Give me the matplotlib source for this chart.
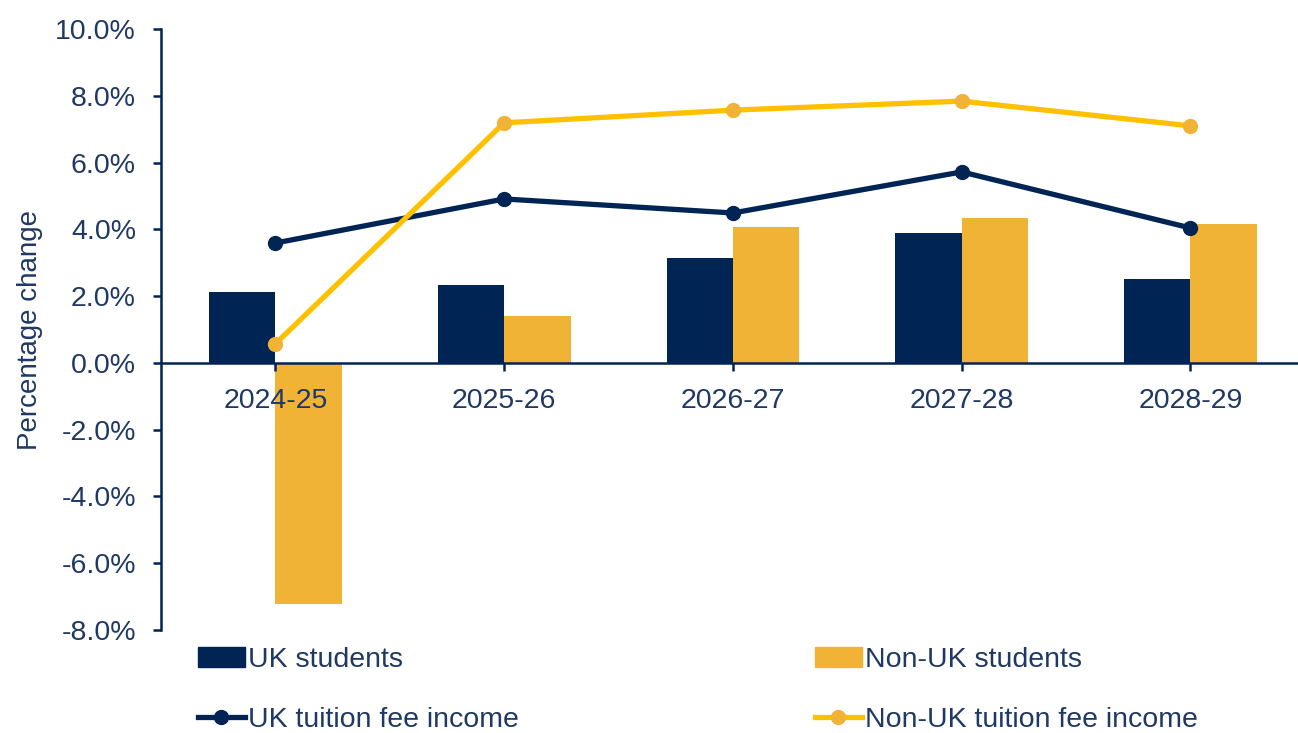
import matplotlib
matplotlib.use("Agg")
import matplotlib.pyplot as plt
from matplotlib.ticker import FuncFormatter, MultipleLocator
from matplotlib.lines import Line2D
from matplotlib.patches import Patch
import numpy as np

plt.rcParams['font.family'] = ['Liberation Sans', 'DejaVu Sans']

years = ["2024-25", "2025-26", "2026-27", "2027-28", "2028-29"]
uk_students = [2.13, 2.33, 3.14, 3.89, 2.51]
nonuk_students = [-7.22, 1.40, 4.07, 4.34, 4.16]
uk_fee_income = [3.59, 4.91, 4.49, 5.72, 4.04]
nonuk_fee_income = [0.57, 7.19, 7.57, 7.84, 7.10]

NAVY = "#002454"
GOLD_BAR = "#F0B336"
GOLD_LINE = "#FFC000"
TEXT = "#1F3864"

fig = plt.figure(figsize=(12.98, 7.33), dpi=100)
ax = fig.add_axes([161/1298, 1 - 630/733, 1 - 161/1298, (630 - 29)/733])
ax.set_axisbelow(False)

x = np.arange(len(years))
w = 0.29
ax.bar(x - w/2, uk_students, width=w, color=NAVY, zorder=1.5)
ax.bar(x + w/2, nonuk_students, width=w, color=GOLD_BAR, zorder=1.5)
ax.plot(x, uk_fee_income, color=NAVY, lw=3.8, marker='o', ms=10, zorder=3)
ax.plot(x, nonuk_fee_income, color=GOLD_LINE, lw=3.8, marker='o', ms=10,
        markerfacecolor=GOLD_BAR, markeredgecolor=GOLD_BAR, zorder=3)

ax.set_ylim(-8, 10)
ax.set_xlim(-0.5, 4.47)
ax.yaxis.set_major_locator(MultipleLocator(2))
ax.yaxis.set_major_formatter(FuncFormatter(lambda v, p: f"{v:.1f}%"))
ax.set_xticks(x)
ax.set_xticklabels(years)

for s in ['top', 'right']:
    ax.spines[s].set_visible(False)
ax.spines['bottom'].set_position(('data', 0))
ax.spines['left'].set_color(NAVY)
ax.spines['bottom'].set_color(NAVY)
ax.spines['left'].set_linewidth(1.8)
ax.spines['bottom'].set_linewidth(1.8)
ax.tick_params(axis='y', direction='out', length=6, width=1.8, color=NAVY,
               labelsize=20.5, labelcolor=TEXT, pad=12)
ax.tick_params(axis='x', direction='out', length=6, width=1.8, color=NAVY,
               labelsize=20.5, labelcolor=TEXT, pad=12)
ax.set_ylabel("Percentage change", fontsize=20, color=TEXT)
ax.yaxis.set_label_coords(-0.104, 0.5)

handles = [
    Patch(facecolor=NAVY, edgecolor=NAVY),
    Line2D([], [], color=NAVY, lw=3.8, marker='o', ms=10),
    Patch(facecolor=GOLD_BAR, edgecolor=GOLD_BAR),
    Line2D([], [], color=GOLD_LINE, lw=3.8, marker='o', ms=10,
           markerfacecolor=GOLD_BAR, markeredgecolor=GOLD_BAR),
]
labels = ["UK students", "UK tuition fee income", "Non-UK students", "Non-UK tuition fee income"]
leg = fig.legend(handles, labels, ncol=2, loc='center left',
                 bbox_to_anchor=(198/1298, 1 - 690/733), frameon=False,
                 fontsize=20.5, handlelength=1.65, handletextpad=0.1,
                 columnspacing=10.4, labelspacing=1.18,
                 borderaxespad=0, borderpad=0)
for t in leg.get_texts():
    t.set_color(TEXT)

fig.savefig("out.png", dpi=100)
